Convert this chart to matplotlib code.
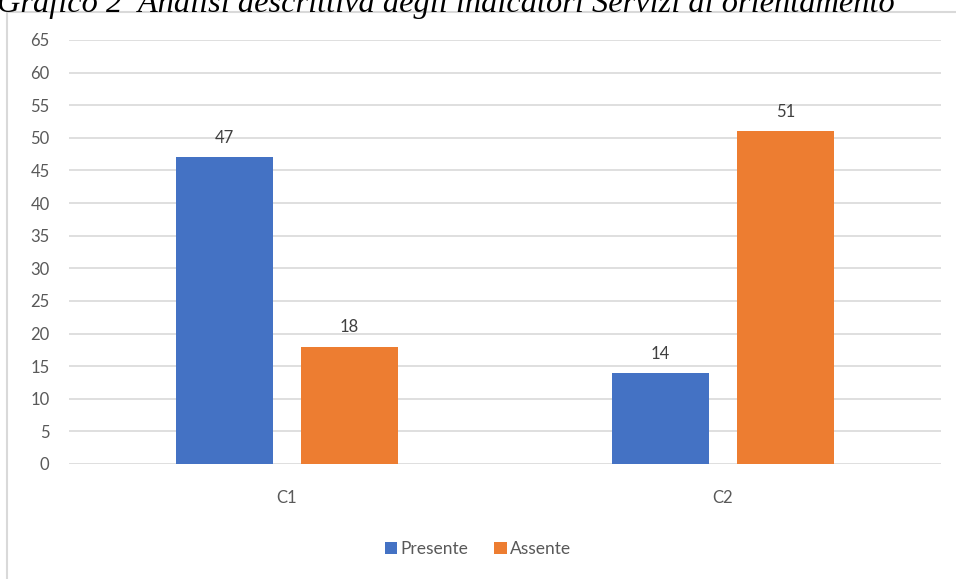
import matplotlib
matplotlib.use("Agg")
import matplotlib.pyplot as plt
import numpy as np
from matplotlib.patches import Rectangle

# data
categories = ["C1", "C2"]
presente = [47, 14]
assente = [18, 51]
series_names = ["Presente", "Assente"]
y_ticks = list(range(0, 70, 5))
title = "Grafico 2  Analisi descrittiva degli indicatori Servizi di orientamento"

BLUE = "#4472C4"
ORANGE = "#ED7D31"
GRID = "#d9d9d9"
TXT = "#595959"

plt.rcParams["font.family"] = ["Lato", "DejaVu Sans"]

fig = plt.figure(figsize=(9.56, 5.79), dpi=100)

# chart frame (only top/left visible in the reference)
fig.patches.append(Rectangle((7 / 956, -0.05), 1.1, 1 - 12 / 579 + 0.05,
                             transform=fig.transFigure, fill=False,
                             edgecolor=GRID, linewidth=1.5))

# caption, clipped at the top like the reference
fig.text(-0.003, 1 - 12 / 579, title, family="Liberation Serif", style="italic",
         fontsize=23.3, color="black", ha="left", va="baseline")

ax = fig.add_axes([69 / 956, 1 - 464 / 579, (941 - 69) / 956, (464 - 40) / 579])

x = np.arange(len(categories))
w = 0.223
off = 0.143
b1 = ax.bar(x - off, presente, w, color=BLUE, label=series_names[0], zorder=3)
b2 = ax.bar(x + off, assente, w, color=ORANGE, label=series_names[1], zorder=3)

for bars in (b1, b2):
    for rect in bars:
        h = rect.get_height()
        ax.annotate(f"{h:g}", (rect.get_x() + rect.get_width() / 2, h),
                    xytext=(0, 8), textcoords="offset points",
                    ha="center", va="bottom", fontsize=12, color="#404040")

ax.set_xlim(-0.5, len(categories) - 0.5)
ax.set_ylim(0, 65)
ax.set_yticks(y_ticks)
ax.set_xticks(x)
ax.set_xticklabels(categories)
ax.yaxis.grid(True, color=GRID, linewidth=1.2, zorder=0)
ax.set_axisbelow(True)
for s in ax.spines.values():
    s.set_visible(False)
ax.tick_params(axis="both", length=0, labelsize=12, labelcolor=TXT)
ax.tick_params(axis="y", pad=14)
ax.tick_params(axis="x", pad=19)

fig.legend(handles=[b1, b2], loc="center", bbox_to_anchor=(0.5, 1 - 549 / 579),
           ncol=2, frameon=False, fontsize=12.5, handlelength=0.7, handleheight=0.7,
           handletextpad=0.2, columnspacing=1.5, labelcolor=TXT)

fig.savefig("out.png", dpi=100, facecolor="white")
